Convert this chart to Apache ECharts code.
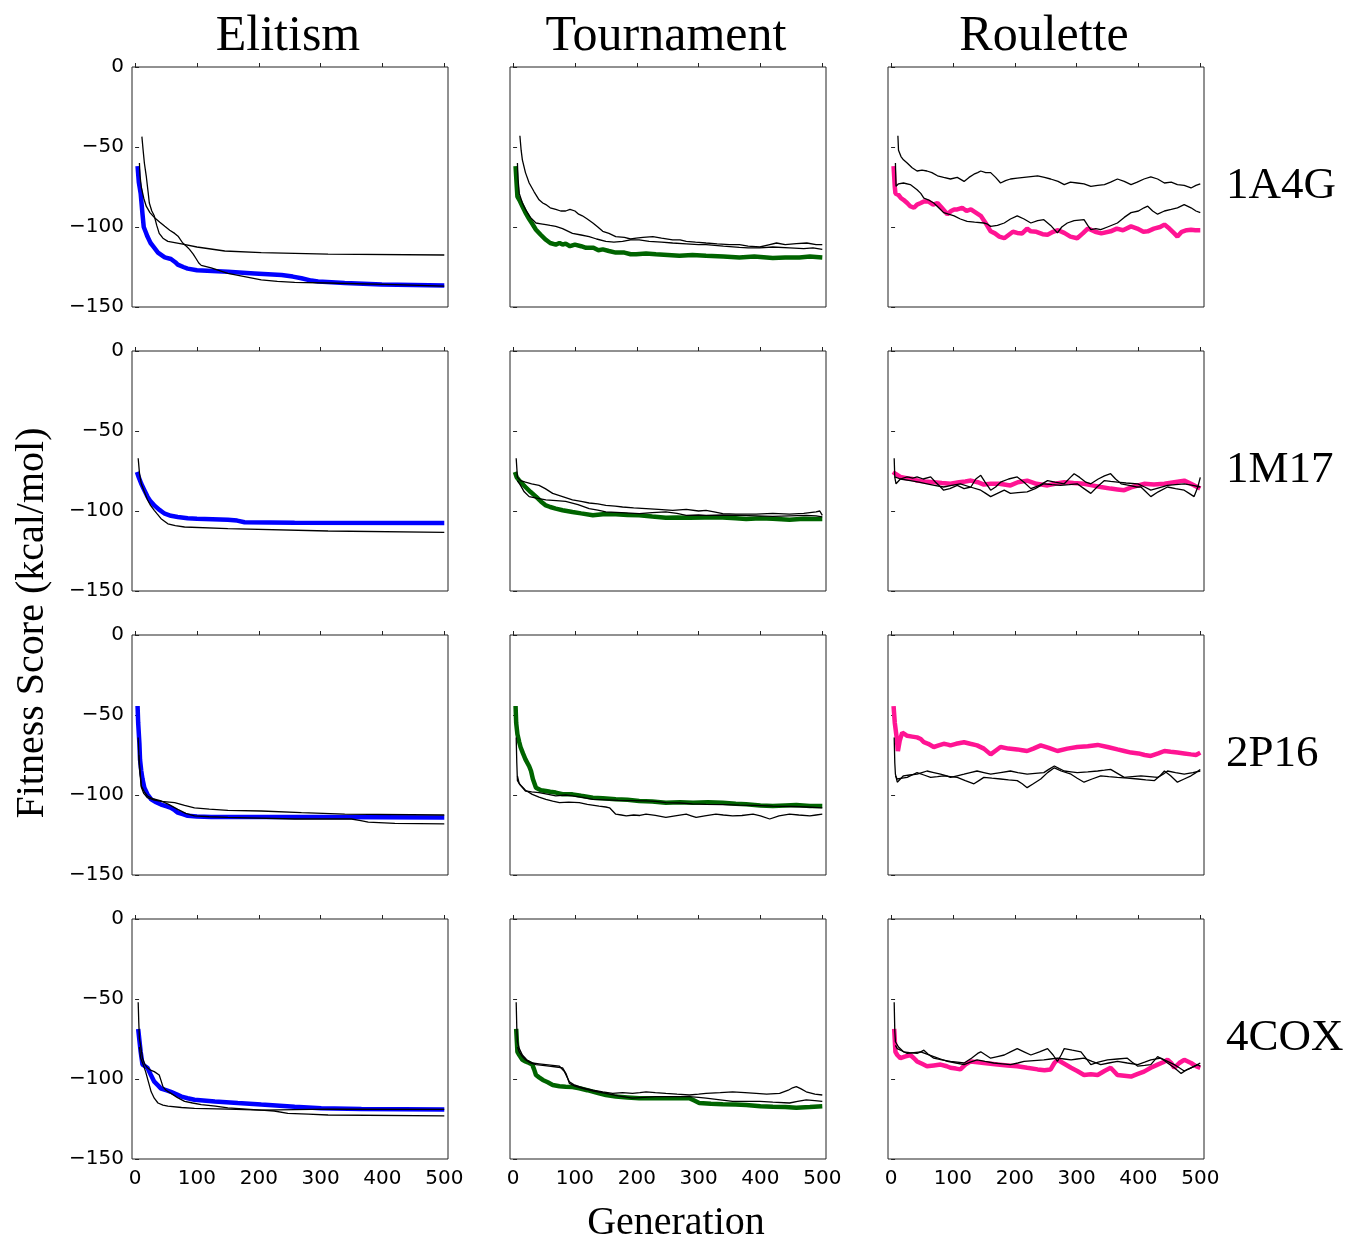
<!DOCTYPE html>
<html>
<head>
<meta charset="utf-8">
<title>Fitness score by generation</title>
<script src="https://cdn.jsdelivr.net/npm/echarts@6/dist/echarts.min.js"></script>
<style>
  html, body { margin: 0; padding: 0; background: #fff; }
  #chart { width: 1346px; height: 1237px; }
</style>
</head>
<body>
<div id="chart"></div>
<script>
// column / row names
var methods = ['Elitism', 'Tournament', 'Roulette']
var proteins = ['1A4G', '1M17', '2P16', '4COX']
var xTicks = [0, 100, 200, 300, 400, 500]

// ---- 1A4G ----
var eli1A4G = [[4,-62],[6,-72],[9,-79],[12,-92],[14,-100],[17,-103],[20,-106],[25,-110],[29,-112],[37,-116],[48,-119],[58,-120],[65,-122],[69,-123.5],[78,-125],[85,-126],[100,-127],[150,-128],[193,-129],[237,-130],[255,-131],[269,-132],[285,-133.5],[296,-134],[339,-135],[399,-136],[500,-136.5]]
var eli1A4G_r1 = [[7,-60],[8,-68],[10,-75],[14,-82],[18,-87],[24,-91],[31,-94],[40,-97],[48,-99.6],[56,-102],[64,-104],[70,-106],[77,-110],[83,-112],[88,-114],[94,-117],[99,-120],[103,-122.5],[107,-124],[123,-125.6],[150,-129],[177,-131],[204,-133],[230,-134],[258,-134.6],[312,-135],[420,-136],[500,-137]]
var eli1A4G_r2 = [[11,-43.5],[13,-52],[15,-60],[18,-68],[21,-78],[23,-85],[27,-90],[31,-93],[35,-99],[39,-104],[45,-107],[53,-109],[75,-110.6],[100,-112.5],[145,-115],[204,-116],[312,-117],[500,-117.5]]

var tour1A4G = [[4,-62],[6,-75],[7,-81],[10,-83],[15,-87],[20,-91],[26,-95],[31,-98],[37,-101.7],[45,-105],[53,-108],[60,-110],[69,-111],[75,-110],[80,-111],[85,-110.4],[92,-112],[100,-111],[110,-112],[118,-113],[130,-113],[138,-114.5],[145,-114],[155,-115],[166,-116],[180,-116],[190,-117],[199,-117],[215,-116.5],[231,-117],[250,-117.5],[269,-118],[290,-117.5],[312,-118],[340,-118.5],[366,-119],[390,-118.5],[420,-119.4],[440,-119],[463,-119],[480,-118.5],[500,-119]]
var tour1A4G_r1 = [[11,-43],[13,-52],[15,-58],[20,-66],[26,-72.5],[34,-78],[42,-83],[48,-85],[53,-86],[60,-88],[69,-89],[77,-90],[85,-90],[92,-89],[100,-90],[106,-92],[112,-93],[120,-95],[129,-97.5],[137,-100],[145,-102.7],[155,-104],[166,-106],[180,-106.5],[190,-107.5],[199,-107],[210,-106.5],[226,-106],[240,-107],[258,-108],[270,-108],[280,-109],[295,-109.5],[312,-110],[330,-110.5],[350,-111],[366,-111],[380,-112],[399,-112.5],[415,-111],[426,-110],[440,-111],[458,-110.4],[475,-110],[490,-111],[500,-111]]
var tour1A4G_r2 = [[7,-60],[8,-70],[10,-79],[15,-85],[20,-89],[28,-94],[37,-97.5],[45,-98],[53,-98.5],[60,-99],[69,-99.6],[80,-101],[96,-104],[110,-105],[123,-106],[135,-107.5],[150,-109],[163,-109.5],[177,-109],[190,-108],[204,-108],[220,-109],[240,-109.5],[258,-110],[280,-110.5],[300,-111],[312,-111],[340,-112],[366,-112.7],[380,-113],[399,-113],[420,-112.5],[447,-113],[470,-113.5],[485,-113],[500,-114]]

var roul1A4G = [[4,-62],[6,-75],[7,-79],[12,-80],[16,-82],[20,-83],[26,-85],[31,-87],[37,-88],[42,-86],[48,-85],[53,-84],[60,-84],[68,-86],[75,-85],[82,-88],[91,-92],[97,-90],[102,-89],[107,-89],[115,-88],[122,-90],[129,-89],[137,-91],[145,-93],[152,-97],[161,-102.7],[168,-104],[175,-106],[183,-107],[190,-105],[197,-103],[204,-103.7],[212,-104],[220,-101],[226,-102.7],[235,-103],[245,-104.5],[253,-104.8],[262,-103],[270,-102],[280,-103.7],[290,-106],[301,-107],[310,-104],[318,-101],[323,-101.7],[330,-103],[340,-104],[355,-102.7],[365,-101],[375,-102],[388,-99.6],[398,-101],[408,-103],[415,-102.7],[425,-101],[435,-100],[442,-98.5],[450,-101],[458,-104],[463,-106],[470,-103],[478,-102],[485,-101.7],[492,-102],[500,-102]]
var roul1A4G_r1 = [[11,-43],[12,-52],[16,-56],[20,-58],[26,-60],[34,-63],[42,-65],[50,-64.5],[58,-65],[66,-66],[75,-68],[85,-69],[96,-70],[107,-69],[118,-71.5],[126,-69],[134,-67],[140,-66],[145,-65],[153,-66],[161,-66],[169,-69],[177,-72.5],[185,-71],[193,-70],[204,-69.5],[215,-69],[226,-68.5],[237,-68],[248,-69],[258,-70],[270,-71.5],[280,-73.5],[290,-72],[301,-72.5],[312,-73],[323,-74.6],[334,-74],[345,-73.5],[355,-72],[366,-70],[377,-71.5],[388,-73.5],[398,-72],[409,-70],[420,-68.7],[431,-70],[442,-72.5],[453,-72],[463,-73.5],[474,-74],[485,-75.6],[493,-74],[500,-73]]
var roul1A4G_r2 = [[7,-60],[8,-74.6],[12,-73],[20,-72.5],[31,-73.5],[42,-76.7],[48,-79],[53,-82],[60,-83],[69,-85],[77,-88],[85,-91],[93,-92],[102,-93],[112,-95],[123,-96.5],[135,-97],[150,-97.5],[155,-98],[161,-99.6],[172,-99],[183,-97.5],[193,-95],[204,-93],[215,-95],[226,-97.5],[237,-96],[247,-95.4],[258,-99],[269,-103.7],[276,-100],[285,-97.5],[296,-96],[312,-95.4],[318,-99],[323,-101.7],[331,-101],[339,-101.7],[350,-100],[366,-97.5],[377,-94],[388,-91],[400,-90],[409,-88],[415,-87],[423,-90],[431,-92],[442,-90],[453,-89],[463,-88],[474,-86],[485,-88],[493,-90],[500,-91]]

// ---- 1M17 ----
var eli1M17 = [[3,-75.6],[6,-79],[10,-83],[15,-87],[20,-91],[25,-94],[31,-96.5],[40,-99.5],[48,-101.7],[58,-103],[69,-103.7],[85,-104.5],[100,-104.8],[150,-105.4],[165,-106],[177,-107],[258,-107.3],[500,-107.5]]
var eli1M17_r1 = [[5,-67],[7,-76],[10,-83],[15,-88],[20,-93],[25,-96.5],[31,-99.6],[36,-102],[42,-104.8],[48,-106.5],[53,-108],[65,-109.2],[80,-110],[150,-111],[312,-112.5],[500,-113.3]]

var tour1M17 = [[3,-75.6],[6,-79],[10,-81],[15,-83],[20,-85],[28,-88],[37,-91],[45,-94],[53,-96.5],[60,-97.5],[69,-98.5],[80,-99.5],[96,-100.6],[110,-101.5],[129,-102.7],[145,-102],[166,-102],[185,-102.5],[204,-102.7],[225,-103.5],[247,-104.2],[265,-104],[285,-104.2],[310,-104],[339,-104],[360,-104.5],[377,-105],[400,-104.5],[420,-104.8],[447,-105.4],[470,-104.8],[490,-105],[500,-105]]
var tour1M17_r1 = [[5,-67],[7,-79],[12,-81],[20,-82],[30,-83],[42,-84],[52,-86],[64,-89],[80,-91],[96,-93],[110,-94],[123,-95],[137,-95.5],[150,-96.5],[165,-97],[177,-97.5],[195,-98],[215,-98.5],[235,-99],[258,-99.6],[280,-99],[300,-100],[312,-99.6],[325,-100.5],[339,-101.7],[360,-102],[393,-102],[420,-101.5],[447,-102],[470,-101.5],[490,-100.6],[496,-100],[500,-102.7]]
var tour1M17_r2 = [[7,-81],[12,-84],[18,-88],[26,-91],[38,-92],[53,-93],[70,-93.5],[85,-94],[105,-96],[123,-98.5],[137,-99.5],[150,-100.6],[175,-101],[204,-101.7],[225,-101],[247,-100.6],[265,-101.5],[280,-102.7],[300,-102.5],[312,-102.7],[340,-102.5],[366,-102.7],[395,-103],[420,-103.3],[447,-103],[474,-102.7],[490,-103],[500,-103.7]]

var roul1M17 = [[3,-75.6],[8,-77],[15,-78.7],[25,-79.5],[35,-80],[42,-81],[55,-81.5],[69,-82],[82,-82.5],[96,-83],[110,-82],[120,-81.5],[129,-81],[140,-82],[150,-83.5],[161,-83],[175,-83],[193,-84],[205,-82],[220,-81],[235,-83],[253,-84],[265,-83],[280,-82],[295,-82.5],[312,-83],[325,-84],[339,-85],[355,-86],[366,-86.5],[377,-87],[390,-85],[409,-83],[425,-83.5],[442,-83],[458,-82],[474,-81],[485,-83],[495,-85],[500,-86]]
var roul1M17_r1 = [[5,-67],[6,-79],[8,-83],[15,-80],[26,-78.7],[35,-79.5],[42,-78.7],[52,-80],[64,-78.7],[72,-82],[80,-85],[85,-87],[95,-86],[107,-84],[118,-86],[129,-85],[137,-80],[145,-77.7],[152,-82],[161,-87],[169,-85],[177,-82],[190,-80],[204,-78.7],[215,-82],[226,-86],[240,-84],[253,-81],[265,-82],[280,-83],[290,-79],[296,-76.7],[305,-79],[315,-82],[323,-83],[335,-80],[345,-78],[355,-76.7],[363,-80],[372,-83],[385,-84],[397,-85],[404,-85],[412,-88],[420,-91],[432,-88],[447,-85],[460,-86],[474,-87],[482,-89],[490,-91],[496,-85],[500,-79]]
var roul1M17_r2 = [[6,-78.7],[15,-80],[31,-81],[45,-82],[58,-83],[70,-84],[85,-85],[98,-84],[112,-83],[128,-85],[145,-87],[153,-89],[161,-91],[172,-89],[183,-87],[193,-89],[205,-88.5],[220,-88],[233,-86],[247,-83],[260,-83.5],[274,-84],[288,-83.5],[301,-83],[312,-86],[323,-89],[333,-85],[345,-81],[355,-81.5],[366,-82],[380,-82.5],[399,-83],[410,-85],[420,-87],[433,-85.5],[447,-84],[460,-83.5],[474,-83],[488,-84],[500,-85]]

// ---- 2P16 ----
var eli2P16 = [[4,-44.4],[5,-55],[7,-68],[8,-78],[10,-85],[12,-90],[15,-95.4],[20,-99.5],[26,-102.7],[34,-104.5],[42,-106],[50,-107],[58,-108],[64,-109.5],[69,-111],[77,-112],[85,-113],[100,-113.5],[123,-113.7],[300,-113.7],[500,-114]]
var eli2P16_r1 = [[5,-64],[6,-75],[7,-83],[10,-95],[14,-99],[20,-101.7],[30,-103],[42,-104],[64,-104.8],[80,-106.5],[96,-108],[120,-108.8],[150,-109.6],[204,-110],[269,-111],[339,-112],[500,-112.5]]
var eli2P16_r2 = [[6,-75],[8,-85],[10,-94.4],[15,-98],[20,-100.6],[30,-102.5],[42,-103.7],[55,-106],[69,-109],[82,-111.5],[96,-113],[120,-113.6],[150,-114],[258,-115],[350,-115],[365,-116],[377,-117],[420,-117.7],[500,-118]]

var tour2P16 = [[4,-44.4],[5,-55],[7,-62],[10,-67],[12,-70],[16,-74],[20,-77.7],[23,-78.7],[26,-82],[29,-85],[32,-90],[37,-95.4],[45,-97],[53,-97.5],[60,-98],[69,-98.5],[80,-99.5],[96,-99.6],[110,-100.5],[129,-101.7],[145,-102],[166,-102.7],[185,-103],[204,-103.7],[225,-104],[247,-104.8],[270,-104.5],[291,-104.8],[315,-104.5],[339,-104.8],[360,-105.5],[377,-105.8],[400,-106.5],[420,-106.9],[440,-106.5],[458,-106.3],[480,-106.8],[500,-106.9]]
var tour2P16_r1 = [[5,-64],[6,-80],[7,-91],[12,-94],[20,-97.5],[30,-98],[42,-98.5],[55,-99.5],[69,-100.6],[85,-100],[96,-100.6],[112,-101.5],[129,-102.7],[150,-103],[170,-103.3],[195,-103.5],[215,-103.7],[230,-104],[247,-104.8],[270,-105],[290,-105.5],[312,-105.8],[340,-106],[366,-106.3],[390,-106.5],[420,-106.9],[450,-107.2],[475,-107.5],[500,-108]]
var tour2P16_r2 = [[7,-88],[10,-93],[20,-97],[31,-99.6],[42,-101.3],[53,-102.7],[64,-103.8],[75,-104.8],[90,-104.5],[107,-104.8],[120,-105.8],[139,-106.9],[150,-107.5],[156,-108],[161,-110],[166,-112],[175,-112.5],[183,-113],[195,-112.5],[205,-112.8],[215,-112],[230,-112.8],[247,-114],[262,-113],[280,-112],[288,-113],[296,-114],[310,-113],[328,-112],[340,-112.5],[355,-113],[370,-112.8],[388,-112],[400,-113],[415,-115],[430,-113],[447,-112],[462,-112.5],[480,-113],[490,-112.5],[500,-112]]

var roul2P16 = [[4,-44.4],[6,-55],[9,-64],[11,-72.5],[14,-66],[18,-61],[22,-62],[26,-63],[34,-63.5],[42,-64],[48,-65],[53,-67],[60,-68],[69,-70],[77,-69],[85,-68],[92,-68.5],[96,-69],[105,-68],[118,-67],[128,-68],[139,-69],[150,-71],[161,-74.6],[170,-72],[177,-70],[190,-71],[204,-71.5],[212,-72],[220,-72.5],[230,-71],[242,-69],[255,-70.5],[269,-72.5],[285,-71],[301,-70],[318,-69.5],[334,-68.7],[350,-70],[366,-71.5],[377,-72.5],[388,-73.5],[400,-74],[410,-75],[420,-75.6],[432,-74],[442,-72.5],[452,-73],[463,-73.5],[474,-74],[485,-74.6],[493,-75],[500,-73.5]]
var roul2P16_r1 = [[5,-64],[6,-80],[7,-87],[10,-92],[15,-90],[20,-88],[30,-87.5],[42,-87],[50,-86],[58,-85],[69,-86],[80,-87],[90,-88],[96,-89],[107,-88],[118,-87],[128,-86],[139,-85],[150,-86],[161,-87],[177,-86],[193,-85],[205,-86],[220,-87],[233,-86.5],[247,-86],[255,-84],[264,-81.9],[272,-83.5],[280,-85],[291,-85.5],[301,-86],[318,-85.5],[334,-85],[345,-84.5],[355,-84],[366,-86.5],[377,-89],[390,-88.5],[404,-88],[418,-88.5],[431,-89],[440,-87],[447,-85],[460,-86],[474,-87],[488,-86],[500,-85]]
var roul2P16_r2 = [[7,-88],[10,-90],[18,-89.5],[26,-89],[34,-87.5],[42,-86],[53,-87.5],[64,-89],[75,-88.5],[85,-88],[96,-88.5],[107,-89],[120,-91],[134,-93],[142,-91],[150,-89],[163,-89.5],[177,-90],[190,-90.5],[204,-91],[212,-93],[220,-95.4],[230,-93],[242,-90],[253,-86],[264,-83],[275,-85],[291,-87],[301,-89.5],[312,-92],[325,-90],[339,-88],[352,-88.5],[366,-89],[382,-89.5],[399,-90],[412,-90.5],[426,-91],[435,-88],[442,-85],[452,-88],[463,-92],[474,-90],[485,-88],[493,-86],[500,-84]]

// ---- 4COX ----
var eli4COX = [[5,-68.7],[7,-76],[9,-83],[12,-91],[16,-92],[20,-93],[25,-97],[31,-101.7],[37,-104],[42,-106],[50,-107],[58,-108],[67,-109.5],[75,-111],[85,-112],[96,-113],[129,-114],[166,-115],[204,-116],[258,-117.3],[301,-118.3],[366,-118.7],[500,-119]]
var eli4COX_r1 = [[5,-52],[6,-65],[7,-74.6],[10,-82],[12,-87],[16,-91],[20,-93],[25,-94.5],[31,-95.4],[39,-97.5],[42,-101],[45,-104.8],[50,-107],[58,-109],[68,-111.5],[80,-114],[93,-115],[107,-116],[130,-117],[150,-118],[204,-119.4],[312,-118.8],[500,-119]]
var eli4COX_r2 = [[7,-80],[9,-87],[13,-91],[17,-95.4],[21,-101],[26,-108],[31,-112],[37,-115],[45,-116.3],[53,-117],[75,-117.8],[96,-118.3],[150,-118.8],[204,-119.4],[225,-120],[247,-121.5],[280,-122],[312,-122.5],[500,-123]]

var tour4COX = [[5,-68.7],[7,-83],[10,-85],[15,-88],[20,-89],[26,-90],[31,-91],[34,-94],[37,-97.5],[42,-99],[48,-100.6],[56,-102],[64,-103.7],[75,-104.5],[85,-104.8],[96,-105],[107,-105.8],[120,-107],[139,-109],[150,-110],[166,-111],[185,-111.5],[204,-112],[225,-112],[247,-112],[265,-112],[285,-112],[293,-113.5],[301,-115],[320,-115.5],[339,-115.8],[360,-116],[377,-116.3],[400,-117],[420,-117.3],[440,-117.5],[458,-118],[480,-117.5],[500,-117]]
var tour4COX_r1 = [[5,-52],[6,-68],[7,-76.7],[10,-81],[15,-85],[22,-88],[31,-90],[42,-90.5],[53,-91],[64,-91.5],[75,-92],[83,-95.4],[91,-101.7],[98,-103.5],[107,-104.8],[118,-106],[129,-106.9],[145,-108],[161,-109],[177,-108.5],[193,-109],[205,-108.5],[215,-108],[230,-108.5],[247,-109],[265,-109.5],[285,-110],[300,-109.5],[312,-109],[335,-108.5],[355,-108],[375,-108.5],[393,-109],[410,-109.5],[431,-109],[445,-107],[452,-105.5],[458,-104.8],[465,-106],[474,-108],[488,-109.5],[500,-110]]
var tour4COX_r2 = [[7,-80],[10,-83],[15,-86],[20,-88],[28,-90],[37,-91],[48,-91.5],[58,-92],[70,-92.5],[80,-93],[86,-97],[91,-102.7],[100,-104.5],[112,-105.8],[130,-107.5],[150,-109],[170,-110.5],[193,-112],[212,-111.5],[231,-111],[255,-111],[285,-111],[300,-111.5],[312,-112],[335,-113],[355,-114],[375,-114],[399,-114],[420,-114.5],[447,-115],[460,-114],[474,-113],[488,-113.5],[500,-114]]

var roul4COX = [[5,-68.7],[7,-83],[10,-85],[15,-87],[22,-86],[31,-85],[37,-87],[42,-89],[50,-90.5],[58,-92],[69,-91.5],[80,-91],[90,-92],[96,-93],[105,-93.5],[112,-94],[120,-91],[129,-89],[140,-89.5],[150,-90],[161,-90.5],[172,-91],[188,-91.5],[204,-92],[220,-93],[237,-94],[248,-94.5],[258,-94],[264,-90],[269,-88],[280,-90.5],[291,-93],[301,-95],[312,-97.5],[323,-97],[334,-97.5],[345,-95],[355,-93],[360,-95],[366,-97.5],[377,-98],[388,-98.5],[398,-97],[409,-95.4],[420,-93],[431,-91],[440,-89.5],[447,-88],[453,-90],[458,-93],[466,-90],[474,-88],[485,-90],[493,-92],[500,-93]]
var roul4COX_r1 = [[5,-52],[6,-70],[7,-76.7],[12,-80],[20,-83],[30,-83.5],[42,-84],[48,-83],[53,-82],[60,-84.5],[69,-87],[82,-88],[96,-89],[107,-89.5],[118,-90],[130,-87],[140,-84],[145,-83],[153,-85],[161,-87],[172,-86],[183,-85],[193,-83],[204,-81],[215,-83],[226,-85],[240,-83],[253,-81],[262,-85],[269,-89],[275,-85],[280,-81],[293,-82],[307,-83],[315,-87],[323,-91],[335,-89.5],[350,-88],[366,-87.5],[382,-87],[390,-89.5],[399,-92],[410,-91.5],[420,-91],[431,-86],[440,-88],[447,-90],[458,-93],[469,-96.5],[477,-94.5],[485,-93],[493,-91.5],[500,-90]]
var roul4COX_r2 = [[7,-79],[10,-81],[18,-82.5],[26,-84],[37,-83.5],[48,-83],[58,-84.5],[69,-86],[80,-87.5],[91,-89],[105,-90],[118,-91],[128,-89.5],[139,-88],[152,-89],[166,-90],[180,-90.5],[193,-91],[205,-90],[215,-89],[231,-88.5],[247,-88],[258,-87.5],[269,-87],[280,-87.5],[291,-88],[301,-87.5],[312,-87],[325,-89],[339,-91],[352,-90],[366,-89],[382,-90],[399,-91],[410,-89.5],[420,-88],[436,-87],[447,-89],[458,-91],[466,-93],[474,-95],[485,-93],[496,-91],[500,-92]]

// panels[row][col] -> [highlighted run, other runs...]
var panels = [
  [[eli1A4G, eli1A4G_r1, eli1A4G_r2], [tour1A4G, tour1A4G_r1, tour1A4G_r2], [roul1A4G, roul1A4G_r1, roul1A4G_r2]],
  [[eli1M17, eli1M17_r1], [tour1M17, tour1M17_r1, tour1M17_r2], [roul1M17, roul1M17_r1, roul1M17_r2]],
  [[eli2P16, eli2P16_r1, eli2P16_r2], [tour2P16, tour2P16_r1, tour2P16_r2], [roul2P16, roul2P16_r1, roul2P16_r2]],
  [[eli4COX, eli4COX_r1, eli4COX_r2], [tour4COX, tour4COX_r1, tour4COX_r2], [roul4COX, roul4COX_r1, roul4COX_r2]]
]

var methodColors = ['#0000ff', '#006400', '#ff1493']
var colLeft = [132, 510, 888]
var rowTop = [67, 351, 635, 919]
var panelW = 316
var panelH = 240
var serif = '"Liberation Serif", "DejaVu Serif", serif'
var sans = '"DejaVu Sans", sans-serif'

var chart = echarts.init(document.getElementById('chart'), null, { renderer: 'canvas' })

var grids = []
var xAxes = []
var yAxes = []
var series = []
var graphics = []

for (var r = 0; r < proteins.length; r++) {
  for (var c = 0; c < methods.length; c++) {
    var idx = grids.length
    grids.push({
      left: colLeft[c], top: rowTop[r], width: panelW, height: panelH,
      show: true, borderColor: '#222', borderWidth: 1, backgroundColor: '#fff'
    })
    xAxes.push({
      type: 'value', gridIndex: idx, min: -5, max: 506,
      axisLine: { show: false },
      splitLine: { show: false },
      axisTick: { show: true, inside: true, length: 4, customValues: xTicks, lineStyle: { color: '#222' } },
      axisLabel: {
        show: r === proteins.length - 1, customValues: xTicks,
        fontFamily: sans, fontSize: 20, color: '#000', margin: 10
      }
    })
    yAxes.push({
      type: 'value', gridIndex: idx, min: -150, max: 0, interval: 50,
      axisLine: { show: false },
      splitLine: { show: false },
      axisTick: { show: true, inside: true, length: 4, lineStyle: { color: '#222' } },
      axisLabel: {
        show: c === 0, fontFamily: sans, fontSize: 20, color: '#000', margin: 8,
        formatter: function (v) { return String(v).replace('-', '\u2212') }
      }
    })
    var runs = panels[r][c]
    for (var k = 0; k < runs.length; k++) {
      series.push({
        type: 'line', xAxisIndex: idx, yAxisIndex: idx,
        data: runs[k], symbol: 'none', silent: true,
        lineStyle: k === 0
          ? { color: methodColors[c], width: 4.5 }
          : { color: '#000', width: 1.3 },
        z: k === 0 ? 2 : 3
      })
    }
  }
}

// column titles
for (var c2 = 0; c2 < methods.length; c2++) {
  graphics.push({
    type: 'text', x: colLeft[c2] + panelW / 2 - 2, y: 37,
    style: { text: methods[c2], font: '50px ' + serif, fill: '#000', textAlign: 'center', textVerticalAlign: 'middle' }
  })
}
// row labels
for (var r2 = 0; r2 < proteins.length; r2++) {
  graphics.push({
    type: 'text', x: 1226, y: rowTop[r2] + panelH / 2 - 1,
    style: { text: proteins[r2], font: '45px ' + serif, fill: '#000', textAlign: 'left', textVerticalAlign: 'middle' }
  })
}
// axis names
graphics.push({
  type: 'text', x: 32, y: 623, rotation: Math.PI / 2,
  style: { text: 'Fitness Score (kcal/mol)', font: '40px ' + serif, fill: '#000', textAlign: 'center', textVerticalAlign: 'middle' }
})
graphics.push({
  type: 'text', x: 676, y: 1223,
  style: { text: 'Generation', font: '40px ' + serif, fill: '#000', textAlign: 'center', textVerticalAlign: 'middle' }
})

var option = {
  animation: false,
  backgroundColor: '#fff',
  grid: grids,
  xAxis: xAxes,
  yAxis: yAxes,
  series: series,
  graphic: graphics
}
chart.setOption(option)
</script>
</body>
</html>
